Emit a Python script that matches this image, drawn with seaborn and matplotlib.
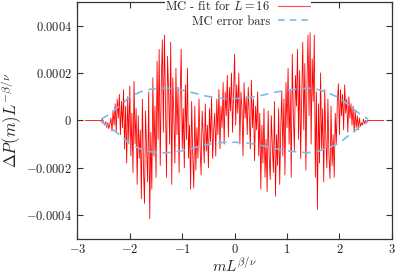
import numpy as np
import pandas as pd
import matplotlib
matplotlib.use('Agg')
import matplotlib.pyplot as plt
from matplotlib.lines import Line2D
from matplotlib.ticker import FuncFormatter
import seaborn as sns

# residuals MC - fit (units of 1e-4), sampled every 0.02 from -2.56 to 2.56
resid = [
    0, -0.05, 0.05, -0.1, -0.2, -0.05, -0.3, -0.1, -0.35, -0.15,
    0.1, -0.45, 0.4, -0.2, 0.7, -0.5, 0.9, 0.1, 1.1, -0.6,
    0.8, -0.3, 1.3, -1.2, 0.6, -1.8, 1.0, -0.9, 1.45, -1.5,
    0.3, -2.2, 1.65, -1.0, 0.5, -2.7, 0.2, -1.6, -0.4, -3.3,
    0.9, -2.0, -3.5, 0.4, -1.2, -2.6, 1.2, -4.15, -0.5, -2.9,
    1.8, -1.5, 0.6, -2.4, 2.5, -0.8, 3.0, -1.9, 1.5, 3.4,
    -0.5, 3.6, 0.8, -2.4, 2.7, 1.2, -1.0, 3.3, -2.7, 1.8,
    0.2, -1.8, 2.2, -0.6, 1.4, -2.2, 0.9, 3.0, -1.2, 0.5,
    -2.0, 1.5, -0.8, 2.2, -1.6, -0.2, -2.9, 0.8, -1.4, -2.85,
    0.6, -2.1, -0.3, -1.6, 0.9, -1.1, -2.3, 0.4, -0.6, -1.8,
    0.7, -1.3, -0.2, -2.0, 0.5, -0.9, 1.0, -1.6, -0.4, 0.3,
    -1.5, 0.9, -0.6, 1.3, -1.2, 0.6, -0.3, 1.6, -1.0, 1.2,
    0.2, 1.9, -0.7, 1.4, 0.4, 2.0, -0.5, 1.1, 2.8, -0.2,
    1.5, 0.3, 2.0, -1.0, 1.2, 0.5, -1.5, 1.6, 0.1, 1.0,
    -0.6, 1.4, 0.2, -1.2, 1.7, -0.3, 0.9, -1.7, 0.6, -0.4,
    1.2, -1.5, 0.3, -2.9, -0.2, -1.8, 0.5, -2.4, -0.8, -3.0,
    0.4, -1.6, -2.5, 0.2, -1.1, -2.2, 0.8, -3.2, -0.6, -1.9,
    0.5, -2.7, -0.4, 1.2, -1.5, 0.9, -2.3, 1.6, -0.3, 2.2,
    -1.0, 1.3, -2.4, 2.8, 0.3, -1.3, 1.9, 0.6, 3.0, -0.8,
    2.1, -1.6, 1.0, 3.3, -0.4, 2.4, -2.1, 1.5, 3.6, 0.2,
    3.7, -1.0, 2.6, 0.8, 3.6, -2.4, 1.2, -3.75, 0.7, -1.8,
    2.0, -1.2, 0.5, -2.6, 1.3, -0.8, -2.0, 0.9, -1.5, -2.45,
    0.6, -1.9, -0.6, -2.4, 0.3, -1.0, 0.8, 1.55, -0.6, 1.3,
    0.2, 1.1, -0.4, 1.5, 0.3, 0.9, -0.5, 1.0, 0.1, 0.7,
    -0.2, 0.6, -0.5, 0.4, -0.3, 0.2, -0.4, 0.1, -0.25, -0.1,
    -0.2, 0.05, -0.15, 0, -0.05, 0, 0,
]
# MC error bar envelope (units of 1e-4)
err_x = [-2.55, -2.4, -2.2, -2.0, -1.8, -1.6, -1.4, -1.2, -1.0, -0.8, -0.6, -0.4, -0.2,
         0.0, 0.2, 0.4, 0.6, 0.8, 1.0, 1.2, 1.4, 1.6, 1.8, 2.0, 2.2, 2.4, 2.55]
err_y = [0.05, 0.25, 0.6, 1.0, 1.2, 1.32, 1.37, 1.35, 1.28, 1.17, 1.05, 0.97, 0.92,
         0.92, 0.95, 1.0, 1.1, 1.2, 1.28, 1.33, 1.36, 1.3, 1.15, 0.95, 0.6, 0.25, 0.05]

xs = np.linspace(-2.56, 2.56, len(resid))
df = pd.DataFrame({'m': np.r_[-2.85, xs, 2.85],
                   'dP': np.r_[0, resid, 0] * 1e-4})
err = pd.DataFrame({'m': err_x, 'up': np.array(err_y) * 1e-4, 'lo': -np.array(err_y) * 1e-4})

sns.set_theme(style='ticks')
plt.rcParams['font.family'] = ['cmr10', 'DejaVu Serif']
plt.rcParams['mathtext.fontset'] = 'cm'
plt.rcParams['axes.formatter.use_mathtext'] = True

fig = plt.figure(figsize=(3.95, 2.74), dpi=100)
ax = fig.add_axes([0.196, 0.128, 0.796, 0.865])

red = '#ff0000'
blue = '#77bde8'
sns.lineplot(data=df, x='m', y='dP', ax=ax, color=red, lw=0.6, estimator=None, sort=False)
sns.lineplot(data=err, x='m', y='up', ax=ax, color=blue, lw=1.2, estimator=None)
sns.lineplot(data=err, x='m', y='lo', ax=ax, color=blue, lw=1.2, estimator=None)
for ln in ax.lines[1:]:
    ln.set_dashes([5, 3.5])

ax.set_xlim(-3, 3)
ax.set_ylim(-0.0005, 0.0005)
ax.set_xticks([-3, -2, -1, 0, 1, 2, 3])
ax.set_yticks([-0.0004, -0.0002, 0, 0.0002, 0.0004])

def xfmt(v, pos):
    return '$%d$' % round(v)

def yfmt(v, pos):
    if abs(v) < 1e-12:
        return '$0$'
    return '$%.4f$' % v

ax.xaxis.set_major_formatter(FuncFormatter(xfmt))
ax.yaxis.set_major_formatter(FuncFormatter(yfmt))
ax.tick_params(direction='in', top=True, right=True, length=4, width=0.8,
               labelsize=9, colors='#333333', labelcolor='#222222', pad=4)
ax.tick_params(axis='x', pad=3)
for s in ax.spines.values():
    s.set_color('#333333')
    s.set_linewidth(0.9)

ax.set_xlabel(r'$mL^{\beta/\nu}$', fontsize=11, labelpad=0)
ax.set_ylabel(r'$\Delta P(m)L^{-\beta/\nu}$', fontsize=12, labelpad=1)

# two one-entry legends so the labels line up on the right, gnuplot style
h_red = Line2D([], [], color=red, lw=0.8, alpha=0.7)
h_blue = Line2D([], [], color=blue, lw=1.2, dashes=[4, 3])
kw = dict(loc='upper right', frameon=True, facecolor='white', edgecolor='none',
          framealpha=1, fancybox=False, markerfirst=False, fontsize=9,
          handlelength=2.6, borderpad=0.05, borderaxespad=0.2, handletextpad=0.6)
leg1 = ax.legend([h_red], ['MC - fit for $L = 16$'], bbox_to_anchor=(0.75, 1.02), **kw)
leg1.set_zorder(5)
ax.add_artist(leg1)
leg2 = ax.legend([h_blue], ['MC error bars'], bbox_to_anchor=(0.75, 0.955), **kw)
leg2.set_zorder(5)

fig.savefig('out.png', dpi=100)
